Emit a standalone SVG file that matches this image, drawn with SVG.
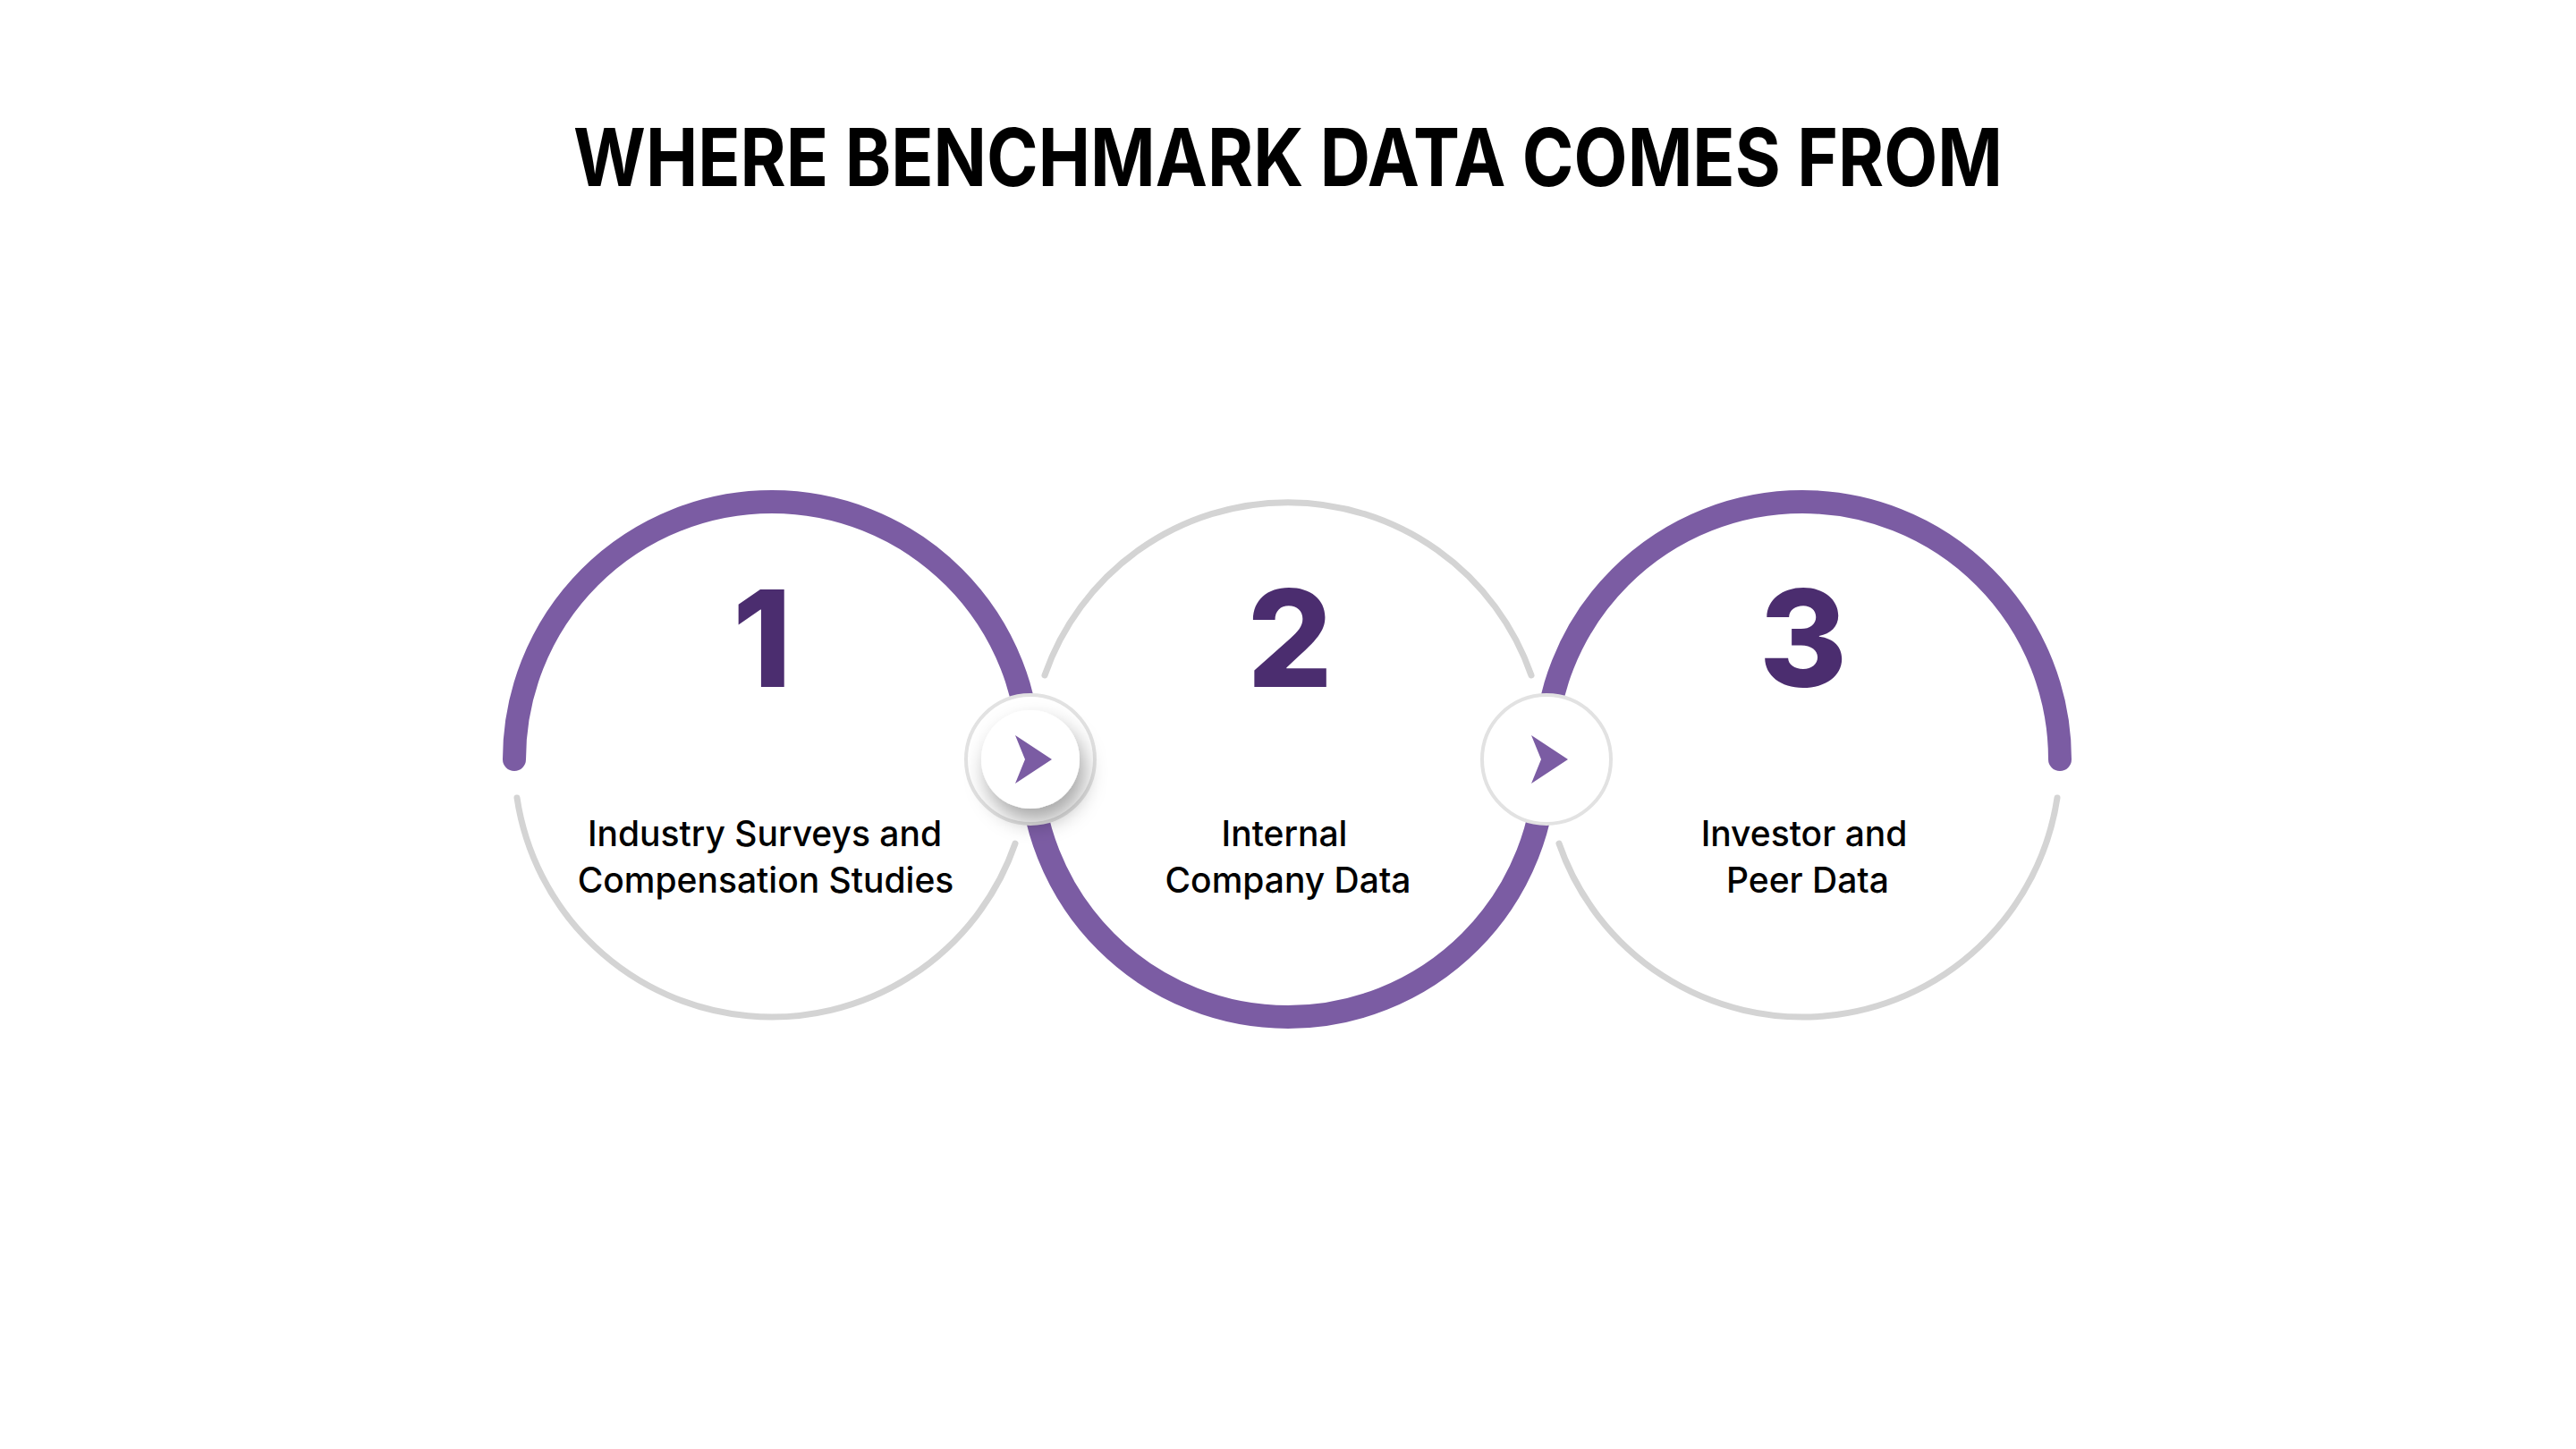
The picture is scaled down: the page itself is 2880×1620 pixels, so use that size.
<svg xmlns="http://www.w3.org/2000/svg" width="2880" height="1620" viewBox="0 0 2880 1620">
<style>
.p{fill:none;stroke:#7b5ca3;stroke-width:26;stroke-linecap:round}
.g{fill:none;stroke:#d4d4d4;stroke-width:7;stroke-linecap:round}
.num{font-family:Inter,"Open Sans",sans-serif;font-weight:800;font-size:150px;fill:#4b2d6f;text-anchor:middle}
.lbl{font-family:Inter,"Open Sans",sans-serif;font-weight:500;font-size:39px;fill:#000;text-anchor:middle}
.ring{fill:#fff;stroke:#e2e2e2;stroke-width:4}
.arr{fill:#7b5ca3}
</style>
<defs>
<filter id="sh" x="-60%" y="-60%" width="220%" height="220%"><feDropShadow dx="6" dy="14" stdDeviation="12" flood-color="#000" flood-opacity="0.35"/></filter>
</defs>
<rect width="2880" height="1620" fill="#fff"/>
<text x="1440" y="208" font-family="Inter,'Open Sans',sans-serif" font-weight="700" font-size="90" text-anchor="middle" textLength="1598" lengthAdjust="spacingAndGlyphs">WHERE BENCHMARK DATA COMES FROM</text>
<g id="connectors">
<path class="p" d="M575 849 A288 288 0 0 1 1151 849"/>
<path class="p" d="M1152 849 A288 288 0 0 0 1728 849"/>
<path class="p" d="M1727 849 A288 288 0 0 1 2303 849"/>
<path class="g" d="M578 892 A288 288 0 0 0 1135 943"/>
<path class="g" d="M1168 755 A288 288 0 0 1 1712 755"/>
<path class="g" d="M1743 943 A288 288 0 0 0 2300 892"/>
</g>
<g id="node1"><text class="num" x="852" y="768">1</text><text class="lbl" x="855" y="946">Industry Surveys and</text><text class="lbl" x="856" y="998">Compensation Studies</text></g>
<g id="node2"><text class="num" x="1442" y="768">2</text><text class="lbl" x="1436" y="946">Internal</text><text class="lbl" x="1440" y="998">Company Data</text></g>
<g id="node3"><text class="num" x="2016" y="768">3</text><text class="lbl" x="2017" y="946">Investor and</text><text class="lbl" x="2021" y="998">Peer Data</text></g>
<g id="arrow1"><circle class="ring" cx="1152" cy="849" r="72"/><circle cx="1152" cy="849" r="55" fill="#fff" filter="url(#sh)"/><path class="arr" d="M1135 822 L1176 849 L1135 876 L1146 849 Z"/></g>
<g id="arrow2"><circle class="ring" cx="1729" cy="849" r="72"/><circle cx="1729" cy="849" r="55" fill="#fff"/><path class="arr" d="M1712 822 L1753 849 L1712 876 L1723 849 Z"/></g>
</svg>
